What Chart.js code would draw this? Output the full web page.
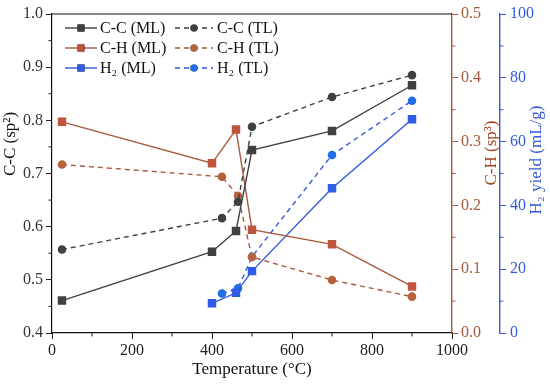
<!DOCTYPE html>
<html>
<head>
<meta charset="utf-8">
<script src="https://cdn.jsdelivr.net/npm/chart.js@4.4.1/dist/chart.umd.min.js"></script>
<style>
  html, body { margin: 0; padding: 0; background: #fff; }
  #wrap { width: 550px; height: 387px; }
</style>
</head>
<body>
<div id="wrap"><canvas id="chart" width="550" height="387"></canvas></div>
<script>
// Temperatures (°C)
const tempML = [25, 400, 460, 500, 700, 900];
const tempTL = [25, 425, 465, 500, 700, 900];
const h2TempML = [400, 460, 500, 700, 900];
const h2TempTL = [425, 465, 500, 700, 900];

// C-C (sp2) fraction
const ccML = [0.461, 0.553, 0.592, 0.744, 0.780, 0.866];
const ccTL = [0.557, 0.616, 0.647, 0.788, 0.844, 0.885];

// C-H (sp3) fraction
const chML = [0.331, 0.266, 0.319, 0.162, 0.139, 0.073];
const chTL = [0.264, 0.245, 0.215, 0.119, 0.083, 0.057];

// H2 yield (mL/g)
const h2ML = [9.3, 12.6, 19.4, 45.4, 67.0];
const h2TL = [12.4, 14.0, 23.9, 55.8, 72.8];

// tick labels / ranges
const xTicks = [0, 200, 400, 600, 800, 1000];
const ccTicks = [0.4, 0.5, 0.6, 0.7, 0.8, 0.9, 1.0];
const chTicks = [0.0, 0.1, 0.2, 0.3, 0.4, 0.5];
const h2Ticks = [0, 20, 40, 60, 80, 100];

const FONT = '"Liberation Serif", "Times New Roman", serif';
const GRAY = '#404040';
const BROWN = '#A8573A';
const BLUE = '#3358DA';

const pts = (xs, ys) => xs.map((x, i) => ({ x: x, y: ys[i] }));

function series(label, xs, ys, axis, color, markColor, style, dashed) {
    return {
        label: label,
        data: pts(xs, ys),
        yAxisID: axis,
        borderColor: color,
        backgroundColor: markColor,
        pointBackgroundColor: markColor,
        pointBorderColor: markColor,
        pointStyle: style,
        pointRadius: style === 'rect' ? 5 : 3.6,
        borderWidth: 1.4,
        borderDash: dashed ? [5, 4] : [],
        tension: 0
    };
}

const datasets = [
    series('C-C (ML)', tempML, ccML, 'y', GRAY, GRAY, 'rect', false),
    series('C-H (ML)', tempML, chML, 'ych', BROWN, '#C0553D', 'rect', false),
    series('H\u2082 (ML)', h2TempML, h2ML, 'yh2', BLUE, '#2F5BE6', 'rect', false),
    series('C-C (TL)', tempTL, ccTL, 'y', GRAY, GRAY, 'circle', true),
    series('C-H (TL)', tempTL, chTL, 'ych', BROWN, '#B5633A', 'circle', true),
    series('H\u2082 (TL)', h2TempTL, h2TL, 'yh2', BLUE, '#1F6FE8', 'circle', true)
];

function fixWidth(w) { return scale => { scale.width = w; }; }

// minor ticks, top border, titles and in-plot legend
const extras = {
    id: 'extras',
    afterDraw(chart) {
        const ctx = chart.ctx;
        const a = chart.chartArea;
        const s = chart.scales;
        ctx.save();

        // top frame line
        ctx.strokeStyle = '#111';
        ctx.lineWidth = 1.2;
        ctx.beginPath();
        ctx.moveTo(a.left, a.top);
        ctx.lineTo(a.right, a.top);
        ctx.stroke();

        // minor ticks
        const minor = (scale, vals, color, side) => {
            ctx.strokeStyle = color;
            ctx.lineWidth = 1;
            ctx.beginPath();
            vals.forEach(v => {
                const p = scale.getPixelForValue(v);
                if (side === 'bottom') { ctx.moveTo(p, scale.top); ctx.lineTo(p, scale.top + 3.5); }
                if (side === 'left') { ctx.moveTo(scale.right, p); ctx.lineTo(scale.right - 3.5, p); }
                if (side === 'right') { ctx.moveTo(scale.left, p); ctx.lineTo(scale.left + 3.5, p); }
            });
            ctx.stroke();
        };
        minor(s.x, [100, 300, 500, 700, 900], '#222', 'bottom');
        minor(s.y, [0.45, 0.55, 0.65, 0.75, 0.85, 0.95], '#222', 'left');
        minor(s.ych, [0.05, 0.15, 0.25, 0.35, 0.45], BROWN, 'right');
        minor(s.yh2, [10, 30, 50, 70, 90], BLUE, 'right');

        // axis titles
        ctx.font = '17px ' + FONT;
        ctx.textAlign = 'center';
        ctx.textBaseline = 'middle';
        ctx.fillStyle = '#111';
        ctx.fillText('Temperature (\u00B0C)', (a.left + a.right) / 2, 370);

        const vTitle = (text, x, y, color) => {
            ctx.save();
            ctx.translate(x, y);
            ctx.rotate(-Math.PI / 2);
            ctx.fillStyle = color;
            ctx.fillText(text, 0, 0);
            ctx.restore();
        };
        vTitle('C-C (sp\u00B2)', 11, 144, '#111');
        vTitle('C-H (sp\u00B3)', s.ych.right - 8, 153, '#A0401E');
        vTitle('H\u2082 yield (mL/g)', s.yh2.right - 13, 160, BLUE);

        // legend inside plot, two columns
        ctx.font = '16px ' + FONT;
        ctx.textAlign = 'left';
        const cols = [{ x0: a.left + 13, x1: a.left + 45, tx: a.left + 48 },
                      { x0: a.left + 123, x1: a.left + 161, tx: a.left + 165 }];
        chart.data.datasets.forEach((ds, i) => {
            const c = cols[Math.floor(i / 3)];
            const y = a.top + 14 + (i % 3) * 20;
            ctx.strokeStyle = ds.borderColor;
            ctx.lineWidth = ds.borderWidth;
            ctx.setLineDash(ds.borderDash);
            ctx.beginPath();
            ctx.moveTo(c.x0, y);
            ctx.lineTo(c.x1, y);
            ctx.stroke();
            ctx.setLineDash([]);
            Chart.helpers.drawPoint(ctx, {
                pointStyle: ds.pointStyle, radius: ds.pointRadius, borderWidth: 0
            }, (c.x0 + c.x1) / 2, y);
            ctx.fillStyle = ds.pointBackgroundColor;
            ctx.fill();
            ctx.fillStyle = '#111';
            ctx.fillText(ds.label, c.tx, y + 1);
        });
        ctx.restore();
    }
};

new Chart(document.getElementById('chart'), {
    type: 'line',
    data: { datasets: datasets },
    options: {
        responsive: false,
        animation: false,
        layout: { padding: { top: 14, left: 0, right: 0, bottom: 0 } },
        plugins: { legend: { display: false }, tooltip: { enabled: false } },
        scales: {
            x: {
                type: 'linear',
                min: 0, max: 1000,
                afterFit: scale => { scale.height = 54; },
                afterBuildTicks: scale => { scale.ticks = xTicks.map(v => ({ value: v })); },
                grid: { drawOnChartArea: false, tickLength: 6, tickColor: '#222' },
                border: { color: '#111', width: 1.2 },
                ticks: { color: '#222', font: { family: FONT, size: 16 }, padding: 2, maxRotation: 0,
                         callback: v => String(v) }
            },
            y: {
                position: 'left',
                min: 0.4, max: 1.0,
                afterFit: fixWidth(52),
                afterBuildTicks: scale => { scale.ticks = ccTicks.map(v => ({ value: v })); },
                grid: { drawOnChartArea: false, tickLength: 6, tickColor: '#222' },
                border: { color: '#111', width: 1.2 },
                ticks: { color: '#333', font: { family: FONT, size: 16 }, padding: 3,
                         callback: v => v.toFixed(1) }
            },
            ych: {
                position: 'right',
                min: 0, max: 0.5,
                afterFit: fixWidth(48),
                afterBuildTicks: scale => { scale.ticks = chTicks.map(v => ({ value: v })); },
                grid: { drawOnChartArea: false, tickLength: 6, tickColor: BROWN },
                border: { color: BROWN, width: 1.4 },
                ticks: { color: BROWN, font: { family: FONT, size: 16 }, padding: 3,
                         callback: v => v.toFixed(1) }
            },
            yh2: {
                position: 'right',
                min: 0, max: 100,
                afterFit: fixWidth(50),
                afterBuildTicks: scale => { scale.ticks = h2Ticks.map(v => ({ value: v })); },
                grid: { drawOnChartArea: false, tickLength: 6, tickColor: BLUE },
                border: { color: BLUE, width: 1.4 },
                ticks: { color: BLUE, font: { family: FONT, size: 16 }, padding: 4 }
            }
        }
    },
    plugins: [extras]
});
</script>
</body>
</html>
